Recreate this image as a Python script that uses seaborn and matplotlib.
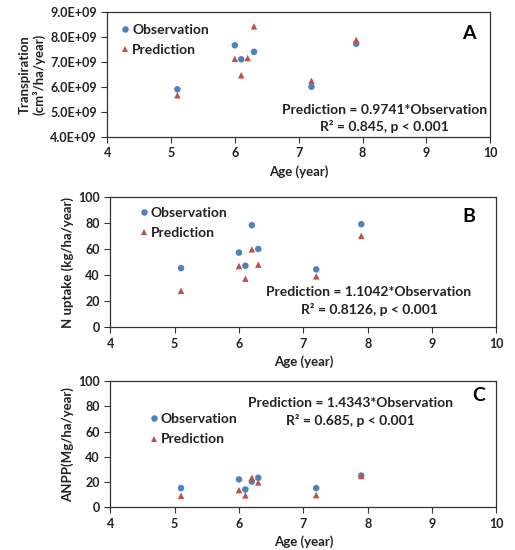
import matplotlib
matplotlib.use("Agg")
import matplotlib.pyplot as plt
import numpy as np
import pandas as pd
import seaborn as sns
from matplotlib.ticker import FuncFormatter

# Data
age = [5.1, 6.0, 6.1, 6.2, 6.3, 7.2, 7.9]

transp_obs = [5.91e9, 7.67e9, 7.11e9, np.nan, 7.41e9, 6.01e9, 7.73e9]
transp_pred = [5.67e9, 7.13e9, 6.47e9, 7.16e9, 8.43e9, 6.25e9, 7.89e9]

nup_obs = [45.6, 57.5, 47.4, 78.6, 60.3, 44.6, 79.4]
nup_pred = [28.1, 47.2, 37.4, 60.0, 48.2, 39.2, 70.4]

anpp_obs = [15.1, 22.0, 14.0, 20.2, 23.3, 15.1, 25.0]
anpp_pred = [9.0, 13.5, 9.3, 23.3, 19.6, 9.5, 24.7]

panels = [
    dict(obs=transp_obs, pred=transp_pred, ylabel="Transpiration\n(cm³/ha/year)",
         ylim=(4e9, 9e9), yticks=np.arange(4e9, 9.1e9, 1e9), letter="A",
         eq="Prediction = 0.9741*Observation", stat="R² = 0.845, p < 0.001"),
    dict(obs=nup_obs, pred=nup_pred, ylabel="N uptake (kg/ha/year)",
         ylim=(0, 100), yticks=np.arange(0, 101, 20), letter="B",
         eq="Prediction = 1.1042*Observation", stat="R² = 0.8126, p < 0.001"),
    dict(obs=anpp_obs, pred=anpp_pred, ylabel="ANPP(Mg/ha/year)",
         ylim=(0, 100), yticks=np.arange(0, 101, 20), letter="C",
         eq="Prediction = 1.4343*Observation", stat="R² = 0.685, p < 0.001"),
]

# layout (figure fractions) and text placements (axes fractions)
rects = [[0.208, 0.751, 0.744, 0.227],
         [0.214, 0.405, 0.750, 0.236],
         [0.214, 0.078, 0.750, 0.229]]
eq_pos = [(0.723, 0.219, 0.085), (0.670, 0.27, 0.134), (0.623, 0.83, 0.69)]
letter_pos = [(0.943, 0.827), (0.929, 0.85), (0.955, 0.889)]
legend_pos = [(0.015, 0.95), (0.055, 0.97), (0.08, 0.79)]

sns.set_style("ticks")
plt.rcParams['font.family'] = ['Lato', 'DejaVu Sans']
plt.rcParams['font.weight'] = 'bold'
plt.rcParams['axes.labelweight'] = 'bold'

colors = {"Observation": "#4F81BD", "Prediction": "#C0504D"}
markers = {"Observation": "o", "Prediction": "^"}

fig = plt.figure(figsize=(5.15, 5.5), dpi=100)

for i, p in enumerate(panels):
    ax = fig.add_axes(rects[i])
    df = pd.DataFrame({
        "Age": age + age,
        "Value": list(p["obs"]) + list(p["pred"]),
        "Type": ["Observation"] * len(age) + ["Prediction"] * len(age),
    }).dropna()
    sns.scatterplot(data=df, x="Age", y="Value", hue="Type", style="Type",
                    palette=colors, markers=markers, s=22, linewidth=0,
                    ax=ax)
    ax.set_xlim(4, 10)
    ax.set_ylim(*p["ylim"])
    ax.set_xticks(range(4, 11))
    ax.set_yticks(p["yticks"])
    if i == 0:
        ax.yaxis.set_major_formatter(FuncFormatter(
            lambda v, pos: f"{v / 1e9:.1f}E+09"))
    ax.tick_params(labelsize=9, length=4, width=0.8, colors="#333333",
                   labelcolor="#222222")
    for s in ax.spines.values():
        s.set_visible(True)
        s.set_color("#333333")
        s.set_linewidth(0.9)
    ax.set_xlabel("Age (year)", fontsize=9.5, color="#222222", labelpad=4)
    ax.set_ylabel(p["ylabel"], fontsize=9.5, color="#222222", labelpad=3)

    ex, ey1, ey2 = eq_pos[i]
    ax.text(ex, ey1, p["eq"], transform=ax.transAxes, ha="center",
            va="center", fontsize=10, fontweight="bold", color="#222222")
    ax.text(ex, ey2, p["stat"], transform=ax.transAxes, ha="center",
            va="center", fontsize=10, fontweight="bold", color="#222222")
    lx, ly = letter_pos[i]
    ax.text(lx, ly, p["letter"], transform=ax.transAxes, ha="center",
            va="center", fontsize=14, fontweight="bold", color="black")

    leg = ax.legend(loc="upper left", bbox_to_anchor=legend_pos[i],
                    frameon=False, fontsize=10, handletextpad=0.0,
                    labelspacing=0.6, handlelength=1.0, borderaxespad=0)
    for t in leg.get_texts():
        t.set_fontweight("bold")
        t.set_color("#222222")

fig.savefig("out.png", dpi=100)
